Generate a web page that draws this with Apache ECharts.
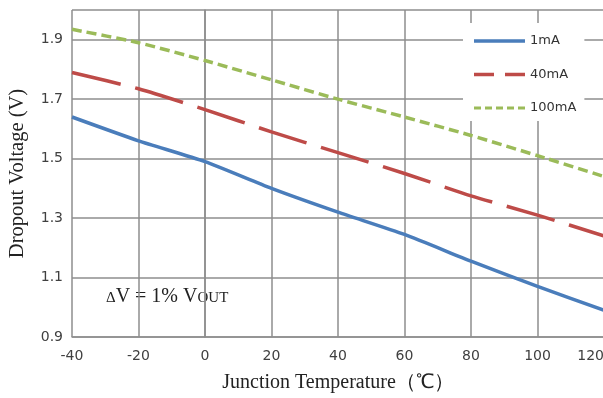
<!DOCTYPE html>
<html>
<head>
<meta charset="utf-8">
<script src="https://cdn.jsdelivr.net/npm/echarts@6/dist/echarts.min.js"></script>
<style>
  html, body { margin: 0; padding: 0; background: #fff; }
  #chart { width: 603px; height: 398px; }
</style>
</head>
<body>
<div id="chart"></div>
<script>
// junction temperature (°C)
const temps = [-40, -20, 0, 20, 40, 60, 80, 100, 120];
// dropout voltage (V) per load current
const v1mA   = [1.64, 1.56, 1.49, 1.40, 1.32, 1.245, 1.155, 1.07, 0.99];
const v40mA  = [1.79, 1.735, 1.665, 1.59, 1.52, 1.45, 1.375, 1.31, 1.24];
const v100mA = [1.935, 1.89, 1.83, 1.765, 1.70, 1.64, 1.578, 1.51, 1.44];
const seriesNames = ['1mA', '40mA', '100mA'];

const gridColor = '#8e8e8e';
const labelColor = '#404040';

// legend swatches: dash shapes in a 51x14 box (tiny corner dots fix the box size)
const box = ' M0,0h0.01v0.01h-0.01z M51,14h-0.01v-0.01h0.01z';
const iconSolid = 'path://M0,5.25h51v3.5h-51z' + box;
const iconLong  = 'path://M0,5.25h20v3.5h-20z M31,5.25h20v3.5h-20z' + box;
const iconShort = 'path://M0,5.5h7v3h-7z M11,5.5h7v3h-7z M22,5.5h7v3h-7z M33,5.5h7v3h-7z M44,5.5h7v3h-7z' + box;

const chart = echarts.init(document.getElementById('chart'));

const pairs = arr => temps.map((t, i) => [t, arr[i]]);

chart.setOption({
  animation: false,
  grid: { left: 72, right: -1, top: 10, bottom: 61, outerBoundsMode: 'none' },
  legend: {
    orient: 'vertical',
    left: 463,
    top: 23,
    padding: [11, 8, 6, 11],
    backgroundColor: '#fff',
    itemWidth: 51,
    itemHeight: 14,
    itemGap: 19.5,
    textStyle: { fontFamily: 'DejaVu Sans', fontSize: 13, color: '#333' },
    data: [
      { name: seriesNames[0], icon: iconSolid },
      { name: seriesNames[1], icon: iconLong },
      { name: seriesNames[2], icon: iconShort }
    ]
  },
  xAxis: {
    type: 'value',
    min: -40,
    max: 120,
    interval: 20,
    axisLine: { show: true, lineStyle: { color: gridColor, width: 1.5 } },
    axisTick: { show: false },
    splitLine: { show: true, lineStyle: { color: gridColor, width: 1.5 } },
    axisLabel: { color: labelColor, fontFamily: 'DejaVu Sans', fontSize: 14, margin: 12, alignMaxLabel: 'right' },
    name: 'Junction Temperature（℃）',
    nameLocation: 'middle',
    nameGap: 36,
    nameTextStyle: { fontFamily: 'Liberation Serif', fontSize: 20, color: '#222' }
  },
  yAxis: {
    type: 'value',
    min: 0.9,
    max: 2.0,
    interval: 0.2,
    axisLine: { show: true, lineStyle: { color: gridColor, width: 1.5 } },
    axisTick: { show: false },
    splitLine: { show: true, lineStyle: { color: gridColor, width: 1.5 } },
    axisLabel: {
      color: labelColor, fontFamily: 'DejaVu Sans', fontSize: 14, margin: 9,
      showMaxLabel: false,
      formatter: v => v.toFixed(1)
    },
    name: 'Dropout Voltage (V)',
    nameLocation: 'middle',
    nameGap: 44,
    nameTextStyle: { fontFamily: 'Liberation Serif', fontSize: 20.5, color: '#222' }
  },
  series: [
    {
      name: seriesNames[0], type: 'line', data: pairs(v1mA), smooth: 0.2,
      symbol: 'none', color: '#4a7dbb',
      lineStyle: { width: 3.5, color: '#4a7dbb' }
    },
    {
      name: seriesNames[1], type: 'line', data: pairs(v40mA), smooth: 0.2,
      symbol: 'none', color: '#be4b48',
      lineStyle: { width: 3.5, color: '#be4b48', type: [50, 15] }
    },
    {
      name: seriesNames[2], type: 'line', data: pairs(v100mA), smooth: 0.2,
      symbol: 'none', color: '#9bbb59',
      lineStyle: { width: 3.5, color: '#9bbb59', type: [10, 5] }
    }
  ],
  graphic: [{
    type: 'text',
    left: 106,
    top: 287,
    style: {
      text: '{d|Δ}{a|V = 1% V}{b|OUT}',
      rich: {
        d: { fontFamily: 'Liberation Serif', fontSize: 15, fill: '#222', verticalAlign: 'bottom', padding: [0, 0, 1, 0] },
        a: { fontFamily: 'Liberation Serif', fontSize: 20, fill: '#222', verticalAlign: 'bottom' },
        b: { fontFamily: 'Liberation Serif', fontSize: 15, fill: '#222', verticalAlign: 'bottom', padding: [0, 0, 1, 0] }
      }
    }
  }]
});
</script>
</body>
</html>
